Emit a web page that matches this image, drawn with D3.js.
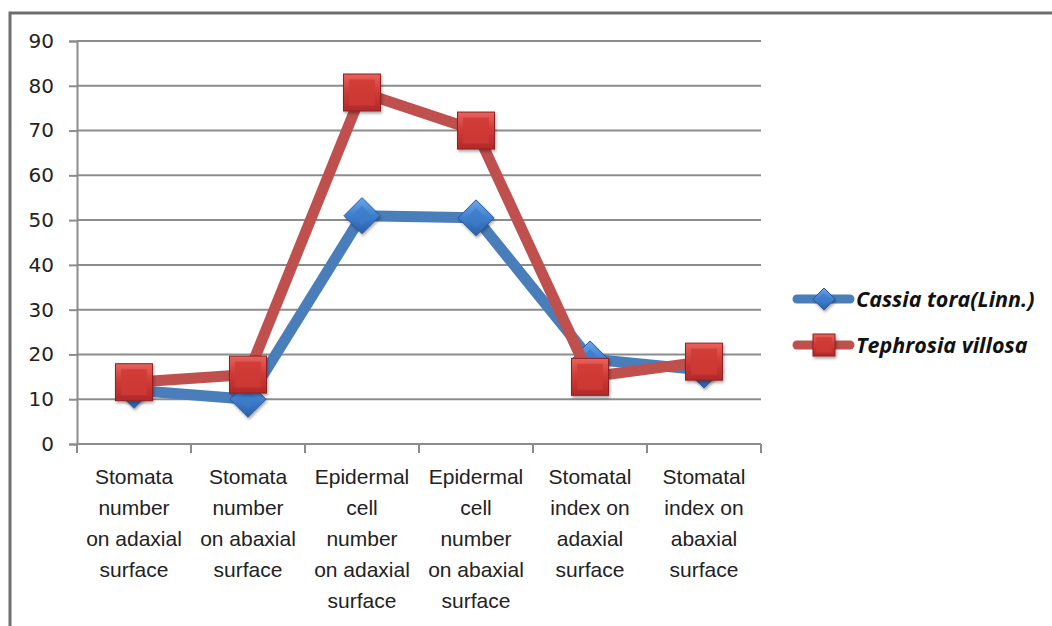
<!DOCTYPE html>
<html>
<head>
<meta charset="utf-8">
<script src="https://cdn.jsdelivr.net/npm/d3@7"></script>
<style>
  body { margin: 0; background: #fff; }
  svg { display: block; }
</style>
</head>
<body>
<div id="chart"></div>
<script>
// data
var categories = [
    ["Stomata", "number", "on adaxial", "surface"],
    ["Stomata", "number", "on abaxial", "surface"],
    ["Epidermal", "cell", "number", "on adaxial", "surface"],
    ["Epidermal", "cell", "number", "on abaxial", "surface"],
    ["Stomatal", "index on", "adaxial", "surface"],
    ["Stomatal", "index on", "abaxial", "surface"]
];
var cassia = [12, 10, 51, 50.5, 19, 16.5];
var tephrosia = [13.8, 15.5, 78.5, 70, 15, 18.4];
var yTicks = [0, 10, 20, 30, 40, 50, 60, 70, 80, 90];
var seriesNames = ["Cassia tora(Linn.)", "Tephrosia villosa"];

var width = 1052, height = 626;
var margin = { top: 41, left: 77, right: 291, bottom: 182 };
var plotW = width - margin.left - margin.right,
    plotH = height - margin.top - margin.bottom;

var svg = d3.select("#chart").append("svg")
    .attr("width", width)
    .attr("height", height);

var defs = svg.append("defs");

var gRed = defs.append("linearGradient").attr("id", "gRed")
    .attr("x1", 0).attr("y1", 0).attr("x2", 0).attr("y2", 1);
gRed.append("stop").attr("offset", "0%").attr("stop-color", "#e8625c");
gRed.append("stop").attr("offset", "45%").attr("stop-color", "#d13c37");
gRed.append("stop").attr("offset", "100%").attr("stop-color", "#b3282a");

var gBlue = defs.append("linearGradient").attr("id", "gBlue")
    .attr("x1", 0).attr("y1", 0).attr("x2", 0).attr("y2", 1);
gBlue.append("stop").attr("offset", "0%").attr("stop-color", "#6aa6ea");
gBlue.append("stop").attr("offset", "50%").attr("stop-color", "#3f7fcf");
gBlue.append("stop").attr("offset", "100%").attr("stop-color", "#2b60a8");

var shadow = defs.append("filter").attr("id", "shadow")
    .attr("x", "-30%").attr("y", "-30%").attr("width", "160%").attr("height", "160%");
shadow.append("feDropShadow").attr("dx", 1).attr("dy", 2).attr("stdDeviation", 1.5)
    .attr("flood-color", "#000").attr("flood-opacity", 0.35);

// outer frame (runs off the right and bottom of the picture)
svg.append("rect")
    .attr("x", 10).attr("y", 13)
    .attr("width", width + 20).attr("height", height + 20)
    .attr("fill", "none")
    .attr("stroke", "#6e6e6e")
    .attr("stroke-width", 3);

var g = svg.append("g")
    .attr("transform", "translate(" + margin.left + "," + margin.top + ")");

var x = d3.scaleBand().domain(d3.range(categories.length)).range([0, plotW]);
var y = d3.scaleLinear().domain([0, 90]).range([plotH, 0]);

// gridlines
g.selectAll(".grid").data(yTicks.filter(function (d) { return d > 0; }))
    .enter().append("line")
    .attr("x1", 0).attr("x2", plotW)
    .attr("y1", function (d) { return y(d); })
    .attr("y2", function (d) { return y(d); })
    .attr("stroke", "#8c8c8c").attr("stroke-width", 2);

// y axis
var yAxis = g.append("g")
    .call(d3.axisLeft(y).tickValues(yTicks).tickSize(8).tickPadding(15));
yAxis.select(".domain").attr("stroke", "#8c8c8c").attr("stroke-width", 2);
yAxis.selectAll(".tick line").attr("stroke", "#8c8c8c").attr("stroke-width", 2);
yAxis.selectAll("text")
    .attr("font-family", "DejaVu Sans, Verdana, sans-serif")
    .attr("font-size", "20px").attr("fill", "#222");

// x axis: line + ticks at category boundaries
var xAxis = g.append("g").attr("transform", "translate(0," + plotH + ")");
xAxis.append("line").attr("x1", 0).attr("x2", plotW)
    .attr("stroke", "#8c8c8c").attr("stroke-width", 2);
xAxis.selectAll(".xt").data(d3.range(categories.length + 1))
    .enter().append("line")
    .attr("x1", function (d) { return d * x.step(); })
    .attr("x2", function (d) { return d * x.step(); })
    .attr("y1", 0).attr("y2", 9)
    .attr("stroke", "#8c8c8c").attr("stroke-width", 2);

var labels = xAxis.selectAll(".xl").data(categories)
    .enter().append("text")
    .attr("text-anchor", "middle")
    .attr("font-family", "Liberation Sans Narrow, Arial Narrow, sans-serif")
    .attr("font-size", "21px").attr("fill", "#222")
    .attr("transform", function (d, i) { return "translate(" + (x(i) + x.bandwidth() / 2) + ",40)"; });
labels.selectAll("tspan").data(function (d) { return d; })
    .enter().append("tspan")
    .attr("x", 0)
    .attr("y", function (d, i) { return i * 31; })
    .text(function (d) { return d; });

// lines
var line = d3.line()
    .x(function (d, i) { return x(i) + x.bandwidth() / 2; })
    .y(function (d) { return y(d); });

g.append("path").datum(cassia)
    .attr("d", line).attr("fill", "none")
    .attr("stroke", "#4a7ebb").attr("stroke-width", 11)
    .attr("stroke-linejoin", "round");

function diamond(sel, r) {
    sel.append("path")
        .attr("d", "M0," + (-r) + "L" + r + ",0L0," + r + "L" + (-r) + ",0Z")
        .attr("fill", "url(#gBlue)")
        .attr("stroke", "#2a5a9a").attr("stroke-width", 1)
        .attr("filter", "url(#shadow)");
    sel.append("path")
        .attr("d", "M0," + (-r * 0.55) + "L" + (r * 0.55) + ",0L0," + (r * 0.55) + "L" + (-r * 0.55) + ",0Z")
        .attr("fill", "#3d7acb").attr("opacity", 0.7);
}

function square(sel, s) {
    sel.append("rect")
        .attr("x", -s / 2).attr("y", -s / 2).attr("width", s).attr("height", s)
        .attr("fill", "url(#gRed)")
        .attr("stroke", "#8e2222").attr("stroke-width", 1)
        .attr("filter", "url(#shadow)");
    sel.append("rect")
        .attr("x", -s / 2 + s * 0.15).attr("y", -s / 2 + s * 0.15)
        .attr("width", s * 0.7).attr("height", s * 0.7)
        .attr("fill", "#cf3a35").attr("opacity", 0.85);
}

g.selectAll(".dm").data(cassia).enter().append("g")
    .attr("transform", function (d, i) { return "translate(" + (x(i) + x.bandwidth() / 2) + "," + y(d) + ")"; })
    .each(function () { diamond(d3.select(this), 18); });

g.append("path").datum(tephrosia)
    .attr("d", line).attr("fill", "none")
    .attr("stroke", "#c0504d").attr("stroke-width", 11)
    .attr("stroke-linejoin", "round");

g.selectAll(".sq").data(tephrosia).enter().append("g")
    .attr("transform", function (d, i) { return "translate(" + (x(i) + x.bandwidth() / 2) + "," + y(d) + ")"; })
    .each(function () { square(d3.select(this), 37); });

// legend
var legend = svg.append("g").attr("transform", "translate(797,299)");
var lg = legend.selectAll(".lg").data(seriesNames).enter().append("g")
    .attr("transform", function (d, i) { return "translate(0," + i * 46 + ")"; });
lg.append("line").attr("x1", 0).attr("x2", 53)
    .attr("stroke", function (d, i) { return i === 0 ? "#4a7ebb" : "#c0504d"; })
    .attr("stroke-width", 9).attr("stroke-linecap", "round");
lg.each(function (d, i) {
    var m = d3.select(this).append("g").attr("transform", "translate(27,0)");
    if (i === 0) diamond(m, 11); else square(m, 22);
});
lg.append("text")
    .attr("x", 59).attr("y", 8)
    .attr("font-family", "Open Sans, sans-serif")
    .attr("font-weight", "bold").attr("font-style", "italic")
    .attr("font-size", "21.5px").attr("fill", "#111")
    .text(function (d) { return d; });
</script>
</body>
</html>
